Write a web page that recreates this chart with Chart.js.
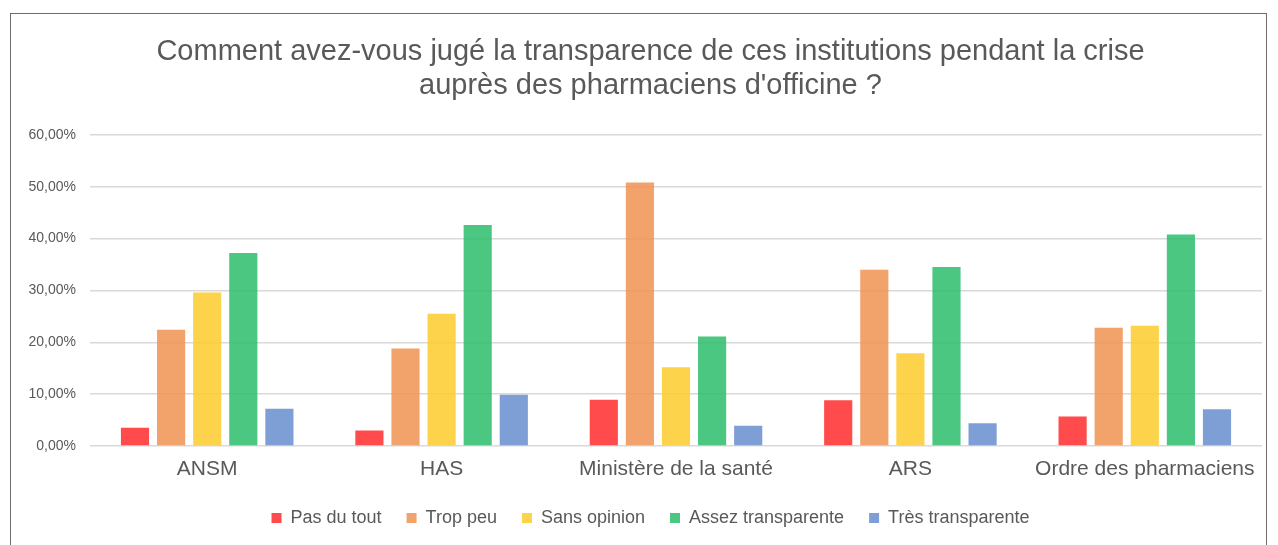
<!DOCTYPE html>
<html>
<head>
<meta charset="utf-8">
<script src="https://cdn.jsdelivr.net/npm/chart.js@4.4.1/dist/chart.umd.min.js"></script>
<style>
  html, body { margin: 0; padding: 0; background: #fff; }
  #frame {
    position: absolute; left: 10px; top: 13px;
    width: 1255px; height: 540px;
    border: 1px solid #6e6e6e;
  }
</style>
</head>
<body>
<div id="frame"><canvas id="chart" width="1255" height="531"></canvas></div>
<script>
const categories = ['ANSM', 'HAS', 'Ministère de la santé', 'ARS', 'Ordre des pharmaciens'];
const seriesNames = ['Pas du tout', 'Trop peu', 'Sans opinion', 'Assez transparente', 'Très transparente'];
const pasDuTout = [3.5, 3.0, 8.9, 8.8, 5.7];
const tropPeu = [22.4, 18.8, 50.8, 34.0, 22.8];
const sansOpinion = [29.6, 25.5, 15.2, 17.9, 23.2];
const assezTransparente = [37.2, 42.6, 21.1, 34.5, 40.8];
const tresTransparente = [7.2, 9.9, 3.9, 4.4, 7.1];
const yTicks = [0, 10, 20, 30, 40, 50, 60];

const colors = [
  'rgba(255,43,43,0.85)',
  'rgba(240,146,81,0.85)',
  'rgba(253,203,43,0.85)',
  'rgba(44,189,108,0.85)',
  'rgba(103,141,207,0.85)'
];
const values = [pasDuTout, tropPeu, sansOpinion, assezTransparente, tresTransparente];

const font = 'Liberation Sans, Arial, sans-serif';
const grey = '#595959';

new Chart(document.getElementById('chart'), {
  type: 'bar',
  data: {
    labels: categories,
    datasets: seriesNames.map((name, i) => ({
      label: name,
      data: values[i],
      backgroundColor: colors[i],
      borderWidth: 0,
      categoryPercentage: 0.77,
      barPercentage: 0.78
    }))
  },
  options: {
    responsive: false,
    animation: false,
    // left padding pushes the centred title/legend to the right like the original
    layout: { padding: { left: 28, right: 4, top: 0, bottom: 8 } },
    plugins: {
      title: {
        display: true,
        text: ['Comment avez-vous jugé la transparence de ces institutions pendant la crise',
               'auprès des pharmaciens d\'officine ?'],
        color: grey,
        font: { family: font, size: 29, weight: 'normal', lineHeight: 1.17 },
        padding: { top: 21, bottom: 32 }
      },
      legend: {
        position: 'bottom',
        labels: {
          color: grey,
          font: { family: font, size: 18 },
          boxWidth: 10,
          boxHeight: 10,
          padding: 25
        }
      },
      tooltip: { enabled: false }
    },
    scales: {
      x: {
        grid: { display: false, drawTicks: false },
        border: { display: false },
        ticks: { color: grey, font: { family: font, size: 21 }, padding: 11, maxRotation: 0 },
        afterFit: s => {
          s.height = 38;
          s.paddingLeft = 0;
          s.paddingRight = 0;
          s._computeLabelArea = () => null;
        }
      },
      y: {
        min: 0,
        max: 60,
        afterFit: s => {
          s.width = 51;
          // labels are wider than the axis box; don't clip them
          s._computeLabelArea = () => null;
        },
        afterBuildTicks: s => { s.ticks = yTicks.map(v => ({ value: v })); },
        grid: { color: '#d9d9d9', lineWidth: 1.5, drawTicks: false },
        border: { display: false },
        ticks: {
          color: grey,
          font: { family: font, size: 14 },
          padding: 14,
          callback: v => v.toFixed(2).replace('.', ',') + '%'
        }
      }
    }
  }
});
</script>
</body>
</html>
